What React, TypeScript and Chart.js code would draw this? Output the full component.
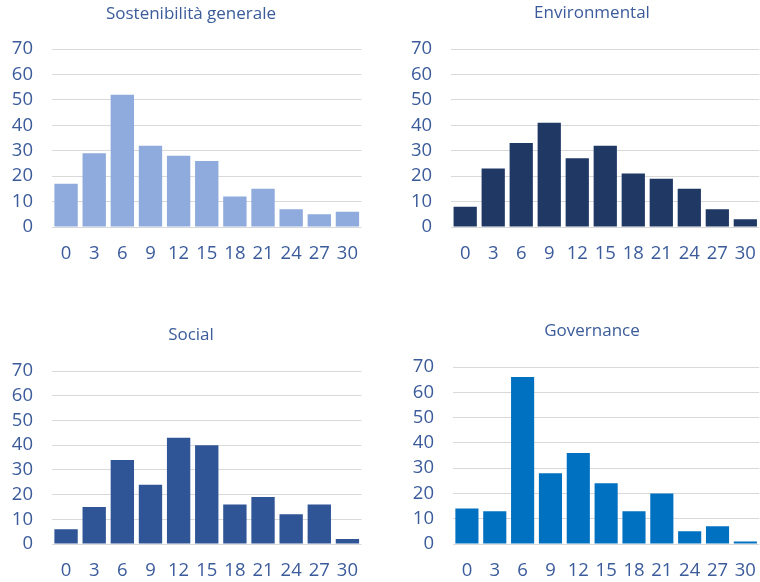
import { useEffect, useRef } from "react";
import { Chart, registerables } from "chart.js";

Chart.register(...registerables);

// Score bins shared by all four histograms
const scoreBins = ["0", "3", "6", "9", "12", "15", "18", "21", "24", "27", "30"];

// Number of companies per score bin
const generaleCounts = [17, 29, 52, 32, 28, 26, 12, 15, 7, 5, 6];
const environmentalCounts = [8, 23, 33, 41, 27, 32, 21, 19, 15, 7, 3];
const socialCounts = [6, 15, 34, 24, 43, 40, 16, 19, 12, 16, 2];
const governanceCounts = [14, 13, 66, 28, 36, 24, 13, 20, 5, 7, 1];

// Value axis
const yMax = 70;
const yStep = 10;

const FONT = "'Open Sans', 'Noto Sans', sans-serif";
const TEXT = "#3b5b9b";
const GRID = "#d9d9d9";
const TICK_SIZE = 18.5;
const TITLE_SIZE = 17;

type Box = { x: number; y: number; w: number; h: number };
type Area = { left: number; top: number; right: number; bottom: number };

type PanelProps = {
  title: string;
  values: number[];
  color: string;
  box: Box;
  area: Area;
  titleY: number;
  titleX: number;
};

function Panel({ title, values, color, box, area, titleY, titleX }: PanelProps) {
  const ref = useRef<HTMLCanvasElement | null>(null);

  useEffect(() => {
    if (!ref.current) return;
    const padRight = box.x + box.w - area.right;
    const padTop = area.top - box.y;
    const yAxisWidth = area.left - box.x;
    const xAxisHeight = box.y + box.h - area.bottom;

    // Panel heading, centred above the plot at a fixed position
    const headingPlugin = {
      id: "panelHeading",
      afterDraw(chart: Chart) {
        const ctx = chart.ctx;
        ctx.save();
        ctx.font = `normal ${TITLE_SIZE}px ${FONT}`;
        ctx.fillStyle = TEXT;
        ctx.textAlign = "center";
        ctx.textBaseline = "middle";
        ctx.fillText(title, titleX - box.x, titleY - box.y);
        ctx.restore();
      },
    };

    const chart = new Chart(ref.current, {
      type: "bar",
      data: {
        labels: scoreBins,
        datasets: [
          {
            data: values,
            backgroundColor: color,
            borderWidth: 0,
            barPercentage: 0.83,
            categoryPercentage: 1,
          },
        ],
      },
      options: {
        animation: false,
        responsive: false,
        devicePixelRatio: 1,
        layout: { padding: { left: 0, right: padRight, top: padTop, bottom: 0 } },
        plugins: {
          legend: { display: false },
          tooltip: { enabled: false },
          title: { display: false },
        },
        scales: {
          x: {
            grid: { display: false },
            border: { display: false },
            ticks: {
              color: TEXT,
              font: { family: FONT, size: TICK_SIZE, lineHeight: 1.2 },
              padding: 8,
              maxRotation: 0,
              autoSkip: false,
            },
            afterFit: (s: any) => {
              s.height = xAxisHeight;
            },
          },
          y: {
            min: 0,
            max: yMax,
            grid: { color: GRID, lineWidth: 1, drawTicks: false },
            border: { display: false },
            ticks: {
              stepSize: yStep,
              color: TEXT,
              font: { family: FONT, size: TICK_SIZE, lineHeight: 1.2 },
              padding: 19,
              autoSkip: false,
            },
            afterFit: (s: any) => {
              s.width = yAxisWidth;
            },
          },
        },
      },
      plugins: [headingPlugin],
    });
    return () => chart.destroy();
  }, [title, values, color, box, area, titleY, titleX]);

  return (
    <canvas
      ref={ref}
      width={box.w}
      height={box.h}
      style={{ position: "absolute", left: box.x, top: box.y, width: box.w, height: box.h }}
    />
  );
}

const panels: PanelProps[] = [
  {
    title: "Sostenibilità generale",
    values: generaleCounts,
    color: "#8faadc",
    box: { x: 0, y: 0, w: 380, h: 290 },
    area: { left: 52, top: 49, right: 361.5, bottom: 227 },
    titleY: 14,
    titleX: 191,
  },
  {
    title: "Environmental",
    values: environmentalCounts,
    color: "#203864",
    box: { x: 380, y: 0, w: 384, h: 290 },
    area: { left: 451.2, top: 49, right: 762, bottom: 227 },
    titleY: 13.5,
    titleX: 592,
  },
  {
    title: "Social",
    values: socialCounts,
    color: "#2f5597",
    box: { x: 0, y: 300, w: 380, h: 282 },
    area: { left: 52, top: 371, right: 361.5, bottom: 544 },
    titleY: 335,
    titleX: 191,
  },
  {
    title: "Governance",
    values: governanceCounts,
    color: "#0070c0",
    box: { x: 380, y: 300, w: 384, h: 282 },
    area: { left: 453, top: 367, right: 762.6, bottom: 544 },
    titleY: 331,
    titleX: 592,
  },
];

export default function App() {
  return (
    <div
      style={{
        position: "fixed",
        left: 0,
        top: 0,
        width: 760,
        height: 582,
        overflow: "hidden",
        background: "#ffffff",
      }}
    >
      {panels.map((p) => (
        <Panel key={p.title} {...p} />
      ))}
    </div>
  );
}
